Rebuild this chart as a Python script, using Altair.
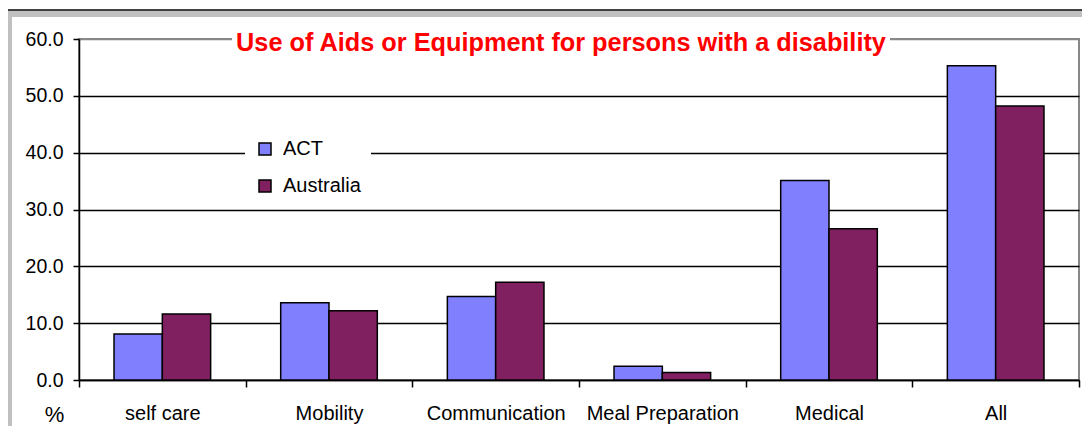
import altair as alt
import pandas as pd

categories = ["self care", "Mobility", "Communication", "Meal Preparation", "Medical", "All"]
act = [8.1, 13.6, 14.7, 2.4, 35.1, 55.3]
australia = [11.6, 12.2, 17.2, 1.3, 26.6, 48.2]
series = ["ACT", "Australia"]
colors = ["#8080FF", "#802060"]
y_ticks = [0, 10, 20, 30, 40, 50, 60]
title_text = "Use of Aids or Equipment for persons with a disability"
y_unit = "%"

rows = []
for c, a, b in zip(categories, act, australia):
    rows.append({"category": c, "series": series[0], "value": a})
    rows.append({"category": c, "series": series[1], "value": b})
df = pd.DataFrame(rows)
one = pd.DataFrame({"k": [0]})

bars = alt.Chart(df).mark_bar(stroke="black", strokeWidth=1.5).encode(
    x=alt.X(
        "category:N", sort=categories,
        scale=alt.Scale(paddingInner=0, paddingOuter=0),
        axis=alt.Axis(title=None, labelAngle=0, tickBand="extent", tickSize=7,
                      tickColor="black", tickWidth=1.5, domainColor="black",
                      domainWidth=1.5, labelFontSize=20, labelColor="black",
                      labelBaseline="alphabetic", labelPadding=32, grid=False),
    ),
    xOffset=alt.XOffset("series:N", sort=series,
                        scale=alt.Scale(paddingInner=0, paddingOuter=0.725)),
    y=alt.Y(
        "value:Q", scale=alt.Scale(domain=[0, 60], nice=False),
        axis=alt.Axis(values=y_ticks, format=".1f", title=y_unit, titleAngle=0,
                      titleX=-25, titleY=382, titleAlign="center",
                      titleBaseline="alphabetic", titleFontSize=22,
                      titleFontWeight="normal", titleColor="black",
                      labelFontSize=19.5, labelColor="black", labelPadding=10,
                      tickSize=6, tickColor="black", tickWidth=1.5,
                      domainColor="black", domainWidth=1.5, grid=True,
                      gridColor={"condition": {"test": "datum.value === 60", "value": "#888888"},
                                 "value": "black"},
                      gridWidth=1.3),
    ),
    color=alt.Color(
        "series:N", sort=series, scale=alt.Scale(domain=series, range=colors),
        legend=alt.Legend(title=None, orient="none", legendX=166, legendY=90,
                          fillColor="white", padding=10, symbolType="square",
                          symbolSize=144, symbolStrokeColor="black",
                          symbolStrokeWidth=1.5, labelFontSize=20,
                          labelColor="black", labelOffset=8, rowPadding=17),
    ),
)

white_box = alt.Chart(one).mark_rect(fill="white").encode(
    x=alt.value(153), x2=alt.value(811), y=alt.value(-6), y2=alt.value(6)
)
title = alt.Chart(one).mark_text(
    color="#FF0000", fontSize=25.3, fontWeight="bold", align="center", baseline="alphabetic"
).encode(x=alt.value(482), y=alt.value(12), text=alt.value(title_text))

frame_top_black = alt.Chart(one).mark_rule(color="black", strokeWidth=1.5).encode(
    x=alt.value(-71), x2=alt.value(1003), y=alt.value(-29)
)
frame_top_gray = alt.Chart(one).mark_rule(color="#C0C0C0", strokeWidth=6).encode(
    x=alt.value(-71), x2=alt.value(1003), y=alt.value(-25)
)
frame_left_gray = alt.Chart(one).mark_rule(color="#C0C0C0", strokeWidth=4).encode(
    x=alt.value(-69), y=alt.value(-28), y2=alt.value(400)
)

chart = alt.layer(
    frame_top_gray, frame_top_black, frame_left_gray, bars, white_box, title
).properties(
    width=1000, height=341,
    autosize=alt.AutoSizeParams(type="none"),
    padding={"left": 71, "top": 31, "right": 3, "bottom": 46},
).configure(font="Liberation Sans").configure_view(stroke="#888888", strokeWidth=2)

chart.save("out.html", embed_options={"renderer": "svg", "actions": False})
